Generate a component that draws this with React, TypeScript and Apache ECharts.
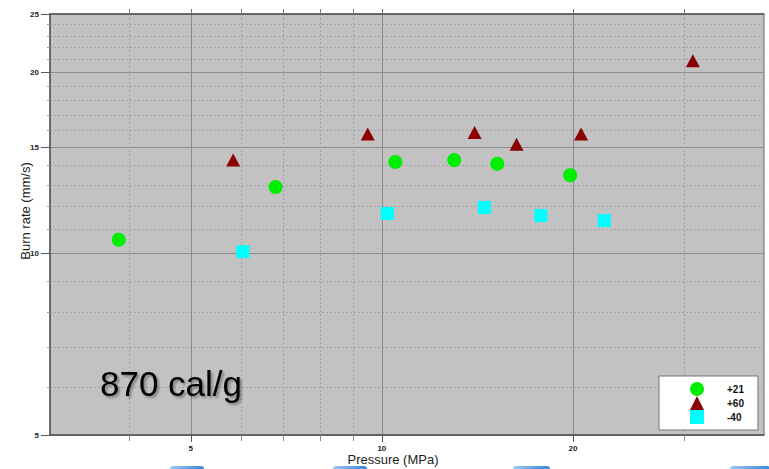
import React, { useEffect, useRef } from "react";
import * as echarts from "echarts";

// Pressure (MPa) / Burn rate (mm/s)
const p21 = [3.85, 6.8, 10.5, 13.0, 15.2, 19.8];
const r21 = [10.55, 12.9, 14.2, 14.3, 14.1, 13.5];
const p60 = [5.83, 9.5, 14.0, 16.3, 20.6, 30.9];
const r60 = [14.3, 15.8, 15.9, 15.2, 15.8, 20.9];
const pm40 = [6.04, 10.2, 14.5, 17.8, 22.4];
const rm40 = [10.08, 11.66, 11.93, 11.57, 11.35];

const seriesNames = ["+21", "+60", "-40"];

const xMajorTicks = [5, 10, 20];
const xMinorTicks = [4, 6, 7, 8, 9, 30];
const xTopTicks = [4, 5, 6, 7, 8, 9, 10, 20, 30];
const yMajorTicks = [5, 10, 15, 20, 25];
const yMinorTicks = [6, 7, 8, 9, 11, 12, 13, 14, 16, 17, 18, 19, 21, 22, 23, 24];

const FONT = "'Liberation Sans', Arial, Helvetica, sans-serif";

const zip = (a: number[], b: number[]) => a.map((v, i) => [v, b[i]]);

export default function App() {
  const ref = useRef<HTMLDivElement>(null);
  useEffect(() => {
    if (!ref.current) return;
    const chart = echarts.init(ref.current, null, { renderer: "svg" });
    const xBase = { type: "log", min: 3, max: 40, gridIndex: 0 };
    const yBase = { type: "log", min: 5, max: 25, gridIndex: 0 };
    const blue = {
      type: "linear", x: 0, y: 0, x2: 1, y2: 0,
      colorStops: [
        { offset: 0, color: "#9cc6f0" },
        { offset: 1, color: "#3a86dc" },
      ],
    };
    chart.setOption({
      animation: false,
      backgroundColor: "#ffffff",
      grid: {
        left: 50,
        top: 14,
        right: 5,
        bottom: 34,
        show: true,
        backgroundColor: "#c2c2c2",
        borderColor: "#666666",
        borderWidth: 1,
        containLabel: false,
        outerBoundsMode: "none",
      },
      xAxis: [
        {
          ...xBase,
          position: "bottom",
          axisLine: { show: true, lineStyle: { color: "#555555", width: 1.5 } },
          axisTick: { show: true, customValues: xMajorTicks, length: 7, lineStyle: { color: "#555555" } },
          axisLabel: {
            show: true,
            customValues: xMajorTicks,
            margin: 9,
            fontSize: 8,
            fontWeight: "bold",
            color: "#222222",
            fontFamily: FONT,
            formatter: (v: number) => String(Math.round(v)),
          },
          splitLine: { show: true, lineStyle: { color: "#8a8a8a", width: 1, type: "solid" } },
        },
        {
          ...xBase,
          position: "bottom",
          axisLine: { show: false },
          axisTick: { show: true, customValues: xMinorTicks, length: 6, lineStyle: { color: "#8a8a8a" } },
          axisLabel: { show: false },
          splitLine: { show: true, lineStyle: { color: "#a2a2a2", width: 1, type: [2, 2] } },
        },
        {
          ...xBase,
          position: "top",
          axisLine: { show: true, lineStyle: { color: "#555555", width: 1.5 } },
          axisTick: { show: true, customValues: xTopTicks, length: 5, lineStyle: { color: "#777777" } },
          axisLabel: { show: false },
          splitLine: { show: false },
        },
      ],
      yAxis: [
        {
          ...yBase,
          position: "left",
          axisLine: { show: true, lineStyle: { color: "#555555", width: 1.5 } },
          axisTick: { show: true, customValues: yMajorTicks, length: 9, lineStyle: { color: "#555555" } },
          axisLabel: {
            show: true,
            customValues: yMajorTicks,
            margin: 11,
            fontSize: 8,
            fontWeight: "bold",
            color: "#222222",
            fontFamily: FONT,
            formatter: (v: number) => String(Math.round(v)),
          },
          splitLine: { show: true, lineStyle: { color: "#8e8e8e", width: 1, type: "solid" } },
        },
        {
          ...yBase,
          position: "left",
          axisLine: { show: false },
          axisTick: { show: true, customValues: yMinorTicks, length: 3, lineStyle: { color: "#9a9a9a" } },
          axisLabel: { show: false },
          splitLine: { show: true, lineStyle: { color: "#a4a4a4", width: 1, type: [2, 2] } },
        },
      ],
      legend: {
        orient: "vertical",
        left: 659,
        top: 376,
        itemWidth: 14,
        itemHeight: 14,
        itemGap: 0,
        padding: [6, 14, 6, 31],
        backgroundColor: "#ffffff",
        borderColor: "#777777",
        borderWidth: 1,
        textStyle: {
          fontSize: 10,
          fontWeight: "bold",
          color: "#111111",
          fontFamily: FONT,
          padding: [0, 0, 0, 18],
        },
        data: [
          { name: seriesNames[0], icon: "circle" },
          { name: seriesNames[1], icon: "triangle" },
          { name: seriesNames[2], icon: "rect" },
        ],
      },
      series: [
        {
          name: seriesNames[0],
          type: "scatter",
          xAxisIndex: 0,
          yAxisIndex: 0,
          symbol: "circle",
          symbolSize: 14,
          itemStyle: { color: "#00ee00", opacity: 1 },
          data: zip(p21, r21),
          z: 5,
        },
        {
          name: seriesNames[1],
          type: "scatter",
          xAxisIndex: 0,
          yAxisIndex: 0,
          symbol: "triangle",
          symbolSize: [14, 13],
          itemStyle: { color: "#8b0000", opacity: 1 },
          data: zip(p60, r60),
          z: 5,
        },
        {
          name: seriesNames[2],
          type: "scatter",
          xAxisIndex: 0,
          yAxisIndex: 0,
          symbol: "rect",
          symbolSize: 13,
          itemStyle: { color: "#00ffff", opacity: 1 },
          data: zip(pm40, rm40),
          z: 5,
        },
      ],
      graphic: [
        {
          type: "text",
          left: 100,
          top: 366,
          z: 10,
          style: {
            text: "870 cal/g",
            font: `35px ${FONT}`,
            fill: "#000000",
            textShadowColor: "rgba(0,0,0,0.35)",
            textShadowBlur: 2,
            textShadowOffsetX: 2,
            textShadowOffsetY: 2,
          },
        },
        {
          type: "text",
          x: 25,
          y: 211,
          rotation: Math.PI / 2,
          style: {
            text: "Burn rate (mm/s)",
            font: `13px ${FONT}`,
            fill: "#222222",
            align: "center",
            verticalAlign: "middle",
          },
        },
        {
          type: "text",
          x: 393,
          y: 459,
          z: 10,
          style: {
            text: "Pressure (MPa)",
            font: `13px ${FONT}`,
            fill: "#222222",
            align: "center",
            verticalAlign: "middle",
          },
        },
        { type: "rect", z: 1, shape: { x: 170, y: 466, width: 34, height: 8, r: 3 }, style: { fill: blue } },
        { type: "rect", z: 1, shape: { x: 333, y: 466, width: 34, height: 8, r: 3 }, style: { fill: blue } },
        { type: "rect", z: 1, shape: { x: 513, y: 466, width: 37, height: 8, r: 3 }, style: { fill: blue } },
        { type: "rect", z: 1, shape: { x: 730, y: 466, width: 40, height: 8, r: 3 }, style: { fill: blue } },
      ],
    });
    return () => chart.dispose();
  }, []);
  return (
    <div
      ref={ref}
      style={{ position: "fixed", left: 0, top: 0, width: 769, height: 469 }}
    />
  );
}
